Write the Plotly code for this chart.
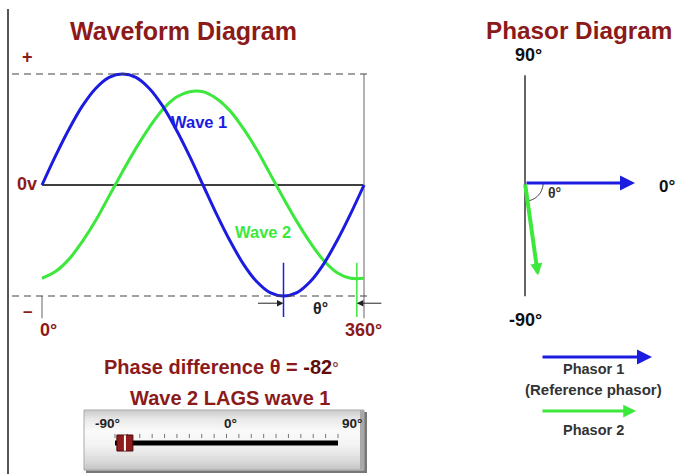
import math
import plotly.graph_objects as go

# ---------------- data ----------------
angles_deg = [0, 15, 30, 45, 60, 75, 90, 105, 120, 135, 150, 165, 180,
              195, 210, 225, 240, 255, 270, 285, 300, 315, 330, 345, 360]
wave1 = [0.0, 0.26, 0.5, 0.71, 0.87, 0.97, 1.0, 0.97, 0.87, 0.71, 0.5, 0.26, 0.0,
         -0.26, -0.5, -0.71, -0.87, -0.97, -1.0, -0.97, -0.87, -0.71, -0.5, -0.26, 0.0]
wave2 = [-0.84, -0.78, -0.67, -0.51, -0.32, -0.10, 0.12, 0.33, 0.52, 0.68, 0.79, 0.84, 0.84,
         0.78, 0.67, 0.51, 0.32, 0.10, -0.12, -0.33, -0.52, -0.68, -0.79, -0.84, -0.84]
phase_difference = -82          # degrees (wave 2 lags wave 1)
wave1_trough_deg = 270
wave2_trough_deg = 352
phasor_names = ["Phasor 1", "Phasor 2"]
phasor_angles = [0, -82]
phasor_mags = [1.0, 0.85]
slider_label_vals = [-90, 0, 90]
slider_labels = ["-90°", "0°", "90°"]
slider_ticks = [-90, -80, -70, -60, -50, -40, -30, -20, -10, 0,
                10, 20, 30, 40, 50, 60, 70, 80, 90]

# ---------------- styling ----------------
W, H = 675, 474
DARKRED = "#8c1a1a"
BLUE = "#1c1ce0"
GREEN = "#3ce83c"
FONT = "Liberation Sans, Arial, sans-serif"


def px(p):
    return p / W


def py(p):
    return 1 - p / H


fig = go.Figure()

# waveform traces
fig.add_trace(go.Scatter(x=angles_deg, y=wave2, mode="lines", name="Wave 2",
                         line=dict(color=GREEN, width=3, shape="spline"),
                         hoverinfo="skip", xaxis="x", yaxis="y"))
fig.add_trace(go.Scatter(x=angles_deg, y=wave1, mode="lines", name="Wave 1",
                         line=dict(color=BLUE, width=3, shape="spline"),
                         hoverinfo="skip", xaxis="x", yaxis="y"))

# slider ticks and handle
fig.add_trace(go.Scatter(x=slider_ticks, y=[0.35] * len(slider_ticks), mode="markers",
                         marker=dict(symbol="line-ns", size=3, line=dict(color="#777", width=1)),
                         hoverinfo="skip", xaxis="x3", yaxis="y3"))
fig.add_trace(go.Scatter(x=[phase_difference], y=[0], mode="markers",
                         marker=dict(symbol="square", size=16, color="#8e1c1c",
                                     line=dict(color="#4a0606", width=1)),
                         hoverinfo="skip", xaxis="x3", yaxis="y3"))
fig.add_trace(go.Scatter(x=[phase_difference], y=[0], mode="markers",
                         marker=dict(symbol="line-ns", size=11, line=dict(color="white", width=2)),
                         hoverinfo="skip", xaxis="x3", yaxis="y3"))

shapes = []
annotations = []

# left border
shapes.append(dict(type="line", xref="paper", yref="paper", x0=px(8), x1=px(8), y0=py(9), y1=0,
                   line=dict(color="#555", width=2)))

# dashed +/- peak lines
for v in (max(wave1), min(wave1)):
    shapes.append(dict(type="line", xref="paper", yref="y", x0=px(12), x1=px(372), y0=v, y1=v,
                       line=dict(color="#444", width=1.2, dash="7px,5px")))

# zero line
shapes.append(dict(type="line", xref="x", yref="y", x0=angles_deg[0], x1=angles_deg[-1], y0=0, y1=0,
                   line=dict(color="black", width=1.5), layer="below"))
# 0 deg and 360 deg markers
shapes.append(dict(type="line", xref="x", yref="y", x0=angles_deg[-1], x1=angles_deg[-1],
                   y0=max(wave1), y1=-1.2, line=dict(color="#999", width=1.5), layer="below"))
shapes.append(dict(type="line", xref="x", yref="y", x0=angles_deg[0], x1=angles_deg[0],
                   y0=min(wave1), y1=-1.2, line=dict(color="#999", width=1.5), layer="below"))
# trough markers
shapes.append(dict(type="line", xref="x", yref="y", x0=wave1_trough_deg, x1=wave1_trough_deg,
                   y0=-0.70, y1=-1.19, line=dict(color=BLUE, width=1.5)))
shapes.append(dict(type="line", xref="x", yref="y", x0=wave2_trough_deg, x1=wave2_trough_deg,
                   y0=-0.70, y1=-1.19, line=dict(color=GREEN, width=1.5)))

# theta arrows
annotations.append(dict(xref="x", yref="y", x=wave1_trough_deg, y=-1.065, ax=-27, ay=0, text="",
                        showarrow=True, arrowhead=2, arrowwidth=1, arrowsize=1.3, arrowcolor="#222"))
annotations.append(dict(xref="x", yref="y", x=wave2_trough_deg, y=-1.065, ax=26, ay=0, text="",
                        showarrow=True, arrowhead=2, arrowwidth=1, arrowsize=1.3, arrowcolor="#222"))

# phasor diagram: vertical axis
shapes.append(dict(type="line", xref="x2", yref="y2", x0=0, x1=0, y0=0.98, y1=-1.03,
                   line=dict(color="#333", width=1.5)))
# angle arc
r = 0.165
pts = [(r * math.cos(math.radians(a)), r * math.sin(math.radians(a)))
       for a in [phasor_angles[0] + (phasor_angles[1] - phasor_angles[0]) * i / 30 for i in range(31)]]
path = "M " + " L ".join(f"{x:.4f},{y:.4f}" for x, y in pts)
shapes.append(dict(type="path", xref="x2", yref="y2", path=path, line=dict(color="#333", width=1)))

# phasors
colors = [BLUE, GREEN]
widths = [3, 4]
sizes = [1.0, 0.6]
for ang, mag, col, w, s in zip(phasor_angles, phasor_mags, colors, widths, sizes):
    annotations.append(dict(xref="x2", yref="y2", axref="x2", ayref="y2",
                            x=mag * math.cos(math.radians(ang)), y=mag * math.sin(math.radians(ang)),
                            ax=0, ay=0, text="", showarrow=True, arrowhead=2,
                            arrowwidth=w, arrowsize=s, arrowcolor=col))

# legend arrows
annotations.append(dict(xref="paper", yref="paper", x=px(652), y=py(357), ax=-111, ay=0, text="",
                        showarrow=True, arrowhead=2, arrowwidth=3, arrowsize=1.0, arrowcolor=BLUE))
annotations.append(dict(xref="paper", yref="paper", x=px(636), y=py(411), ax=-95, ay=0, text="",
                        showarrow=True, arrowhead=2, arrowwidth=3, arrowsize=0.85, arrowcolor=GREEN))

# slider box (vertical gradient bands)
bx0, bx1, by0, by1 = 84, 364, 410, 470
profile = [(0.0, 200), (0.15, 232), (0.35, 250), (0.6, 242), (0.85, 218), (1.0, 196)]


def gray_at(t):
    for (t0, g0), (t1, g1) in zip(profile[:-1], profile[1:]):
        if t0 <= t <= t1:
            return g0 + (g1 - g0) * (t - t0) / (t1 - t0)
    return profile[-1][1]


nb = 30
shapes.append(dict(type="rect", xref="paper", yref="paper", x0=px(bx0 + 2), x1=px(bx1 + 3),
                   y0=py(by0 + 2), y1=py(by1 + 3), fillcolor="#777", line=dict(width=0), layer="below"))
for i in range(nb):
    t = (i + 0.5) / nb
    g = int(round(gray_at(t)))
    shapes.append(dict(type="rect", xref="paper", yref="paper", x0=px(bx0), x1=px(bx1),
                       y0=py(by0 + (by1 - by0) * i / nb), y1=py(by0 + (by1 - by0) * (i + 1) / nb + 0.6),
                       fillcolor=f"rgb({g},{g},{g})", line=dict(width=0), layer="below"))
shapes.append(dict(type="rect", xref="paper", yref="paper", x0=px(bx1 - 4), x1=px(bx1),
                   y0=py(by0), y1=py(by1), fillcolor="#a8a8a8", line=dict(width=0), layer="below"))
shapes.append(dict(type="rect", xref="paper", yref="paper", x0=px(bx0), x1=px(bx1),
                   y0=py(by0), y1=py(by1), line=dict(color="#aaa", width=1), layer="below"))
# slider track
shapes.append(dict(type="line", xref="x3", yref="y3", x0=slider_ticks[0], x1=slider_ticks[-1],
                   y0=0, y1=0, line=dict(color="black", width=5), layer="below"))

# ---------------- texts ----------------


def txt(x, y, s, size, color, xanchor="center", weight="bold", xref="paper", xshift=0):
    annotations.append(dict(xref=xref, yref="paper", x=x, y=py(y), text=s, showarrow=False,
                            xanchor=xanchor, yanchor="middle", xshift=xshift,
                            font=dict(family=FONT, size=size, color=color, weight=weight)))


txt(px(68), 31, "Waveform Diagram", 25, DARKRED, xanchor="left")
txt(px(27), 57, "+", 18, DARKRED)
txt(px(27), 184, "0v", 18, DARKRED)
txt(px(27), 311, "–", 17, DARKRED)
txt(px(48), 330, "0°", 18, DARKRED)
txt(px(364), 330, "360°", 18, DARKRED)
txt(px(199), 122, "Wave 1", 16.5, BLUE)
txt(px(263), 232, "Wave 2", 16.5, GREEN)
txt(px(320), 308, "θ°", 16, "#222")
txt(px(221), 367,
    f"Phase difference θ = <span style='color:#5e0c0c'>{phase_difference}</span>"
    f"<span style='font-size:16px;color:#8a5050'>°</span>", 20, DARKRED)
txt(px(230), 398, "Wave 2 LAGS wave 1", 20, DARKRED)
for v, lab, sh in zip(slider_label_vals, slider_labels, [-7, 4, 14]):
    txt(v, 423, lab, 13.5, "#222", xref="x3", xshift=sh)

txt(px(484), 31, "Phasor Diagram", 24.3, DARKRED, xanchor="left")
txt(px(528), 55, "90°", 18, "#111")
txt(px(525), 320, "-90°", 18, "#111")
txt(px(657), 187, "0°", 17, "#111", xanchor="left")
txt(px(554), 193, "θ°", 14, "#333")
txt(px(593), 369, phasor_names[0], 14.5, "#333")
txt(px(593), 389, "(Reference phasor)", 15, "#333")
txt(px(593), 430, phasor_names[1], 14.5, "#333")

# ---------------- axes ----------------
sx = 322 / 360.0
x_lo, x_hi = -40, 400
sy = 111.0
y_lo, y_hi = -1.6, 1.25
noax = dict(visible=False, fixedrange=True)

fig.update_layout(
    width=W, height=H,
    margin=dict(l=0, r=0, t=0, b=0),
    paper_bgcolor="white", plot_bgcolor="rgba(0,0,0,0)",
    showlegend=False,
    xaxis=dict(domain=[px(42 + x_lo * sx), px(42 + x_hi * sx)], range=[x_lo, x_hi], anchor="y", **noax),
    yaxis=dict(domain=[py(185 - y_lo * sy), py(185 - y_hi * sy)], range=[y_lo, y_hi], anchor="x", **noax),
    xaxis2=dict(domain=[px(470), px(675)], range=[(470 - 525) / 110, (675 - 525) / 110], anchor="y2", **noax),
    yaxis2=dict(domain=[py(340), py(40)], range=[(183 - 340) / 110, (183 - 40) / 110], anchor="x2", **noax),
    xaxis3=dict(domain=[px(226.5 - 100 * 1.239), px(226.5 + 100 * 1.239)], range=[-100, 100], anchor="y3", **noax),
    yaxis3=dict(domain=[py(463), py(423)], range=[-1, 1], anchor="x3", **noax),
    shapes=shapes,
    annotations=annotations,
)

fig.write_html("out.html", config={"displayModeBar": False},
               post_script="document.body.style.margin='0px';document.body.style.overflow='hidden';")
